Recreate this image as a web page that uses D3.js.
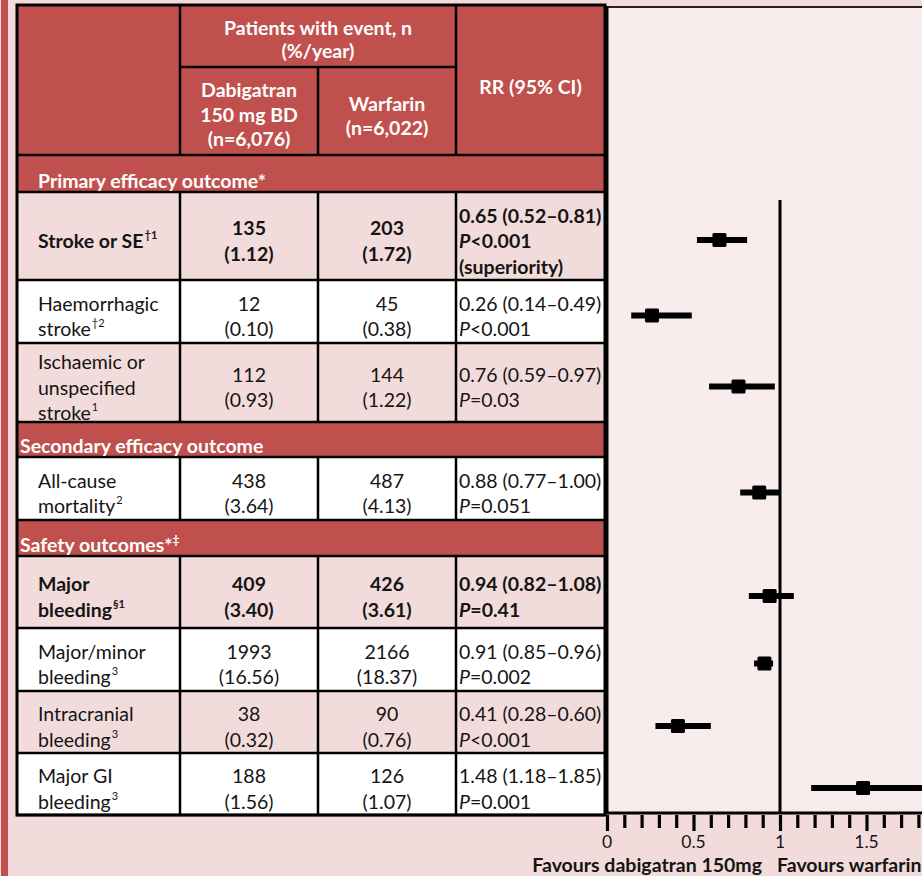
<!DOCTYPE html>
<html>
<head>
<meta charset="utf-8">
<script src="https://cdn.jsdelivr.net/npm/d3@7"></script>
<style>
  html, body { margin: 0; padding: 0; background: #F2DCDB; }
  svg { display: block; font-family: Lato, "Open Sans", sans-serif; }
</style>
</head>
<body>
<svg id="chart" width="922" height="876"></svg>
<script>
// ---- Data ----
const outcomeLabels = [
  ["Stroke or SE"],
  ["Haemorrhagic", "stroke"],
  ["Ischaemic or", "unspecified", "stroke"],
  ["All-cause", "mortality"],
  ["Major", "bleeding"],
  ["Major/minor", "bleeding"],
  ["Intracranial", "bleeding"],
  ["Major GI", "bleeding"]
];
const outcomeNotes = ["†1", "†2", "1", "2", "§1", "3", "3", "3"];
const boldOutcomes = [true, false, false, false, true, false, false, false];
const dabigatranEvents = [135, 12, 112, 438, 409, 1993, 38, 188];
const dabigatranRates = [1.12, 0.10, 0.93, 3.64, 3.40, 16.56, 0.32, 1.56];
const warfarinEvents = [203, 45, 144, 487, 426, 2166, 90, 126];
const warfarinRates = [1.72, 0.38, 1.22, 4.13, 3.61, 18.37, 0.76, 1.07];
const riskRatio = [0.65, 0.26, 0.76, 0.88, 0.94, 0.91, 0.41, 1.48];
const ciLower = [0.52, 0.14, 0.59, 0.77, 0.82, 0.85, 0.28, 1.18];
const ciUpper = [0.81, 0.49, 0.97, 1.00, 1.08, 0.96, 0.60, 1.85];
const pValues = ["<0.001", "<0.001", "=0.03", "=0.051", "=0.41", "=0.002", "<0.001", "=0.001"];
const rrExtraLine = ["(superiority)", null, null, null, null, null, null, null];
const sectionTitles = ["Primary efficacy outcome*", "Secondary efficacy outcome", "Safety outcomes*"];
const sectionNotes = ["", "", "‡"];
const sectionStarts = [0, 3, 4];   // index of first outcome in each section
const axisTicks = d3.range(0, 19).map(i => i / 10);
const axisLabels = [0, 0.5, 1, 1.5];
const favourLeft = "Favours dabigatran 150mg";
const favourRight = "Favours warfarin";

// ---- Layout ----
const RED = "#C0504D", PINK = "#F2DCDB", WHITE = "#FFFFFF", PANEL = "#F8ECEC", INK = "#141414";
const tableLeft = 17, tableRight = 605, tableTop = 5, headerBottom = 155, subHeaderY = 67;
const colX = [tableLeft, 180, 318, 456, tableRight];
const sectionHeights = [37, 35, 36];
const outcomeHeights = [88, 63, 79, 63, 72, 63, 62, 62];
const fontSize = 19.5, lineGap = 25.5;

const svg = d3.select("#chart");

// left accent strip
svg.append("rect").attr("x", 1).attr("y", 0).attr("width", 7).attr("height", 876).attr("fill", RED);

// compute vertical bands
const bands = [];
let y = headerBottom;
outcomeLabels.forEach((_, i) => {
  const s = sectionStarts.indexOf(i);
  if (s >= 0) { bands.push({ type: "section", s, y0: y, y1: y + sectionHeights[s] }); y += sectionHeights[s]; }
  bands.push({ type: "row", i, y0: y, y1: y + outcomeHeights[i] });
  y += outcomeHeights[i];
});
const tableBottom = y;
const rowBands = bands.filter(b => b.type === "row");
const rowCenter = i => (rowBands[i].y0 + rowBands[i].y1) / 2;

// ---- Forest plot panel ----
const x = d3.scaleLinear().domain([0, 1]).range([607, 780]);
const plotTop = 7, axisY = 813;
svg.append("rect").attr("x", x(0)).attr("y", plotTop).attr("width", 922 - x(0) + 5).attr("height", axisY - plotTop)
  .attr("fill", PANEL);
svg.append("line").attr("x1", x(0)).attr("x2", 930).attr("y1", plotTop).attr("y2", plotTop)
  .attr("stroke", "#222").attr("stroke-width", 2);

// ---- Table ----
const T = svg.append("g");
T.append("rect").attr("x", tableLeft).attr("y", tableTop).attr("width", tableRight - tableLeft)
  .attr("height", headerBottom - tableTop).attr("fill", RED);
bands.forEach(b => {
  const fill = b.type === "section" ? RED : (b.i % 2 === 0 ? PINK : WHITE);
  T.append("rect").attr("x", tableLeft).attr("y", b.y0).attr("width", tableRight - tableLeft)
    .attr("height", b.y1 - b.y0).attr("fill", fill);
});

const lineAttrs = sel => sel.attr("stroke", "#000").attr("stroke-width", 2.5);
lineAttrs(T.append("line").attr("x1", colX[1]).attr("x2", colX[1]).attr("y1", tableTop).attr("y2", headerBottom));
lineAttrs(T.append("line").attr("x1", colX[3]).attr("x2", colX[3]).attr("y1", tableTop).attr("y2", headerBottom));
lineAttrs(T.append("line").attr("x1", colX[2]).attr("x2", colX[2]).attr("y1", subHeaderY).attr("y2", headerBottom));
lineAttrs(T.append("line").attr("x1", colX[1]).attr("x2", colX[3]).attr("y1", subHeaderY).attr("y2", subHeaderY));
[headerBottom, ...bands.map(b => b.y1)].forEach(yy =>
  lineAttrs(T.append("line").attr("x1", tableLeft).attr("x2", tableRight).attr("y1", yy).attr("y2", yy)));
rowBands.forEach(b => colX.slice(1, 4).forEach(cx =>
  lineAttrs(T.append("line").attr("x1", cx).attr("x2", cx).attr("y1", b.y0).attr("y2", b.y1))));
T.append("rect").attr("x", tableLeft).attr("y", tableTop).attr("width", tableRight - tableLeft)
  .attr("height", tableBottom - tableTop).attr("fill", "none").attr("stroke", "#000").attr("stroke-width", 3);

// header text
const headText = (txt, cx, by) => T.append("text").attr("x", cx).attr("y", by).attr("text-anchor", "middle")
  .attr("fill", WHITE).attr("font-weight", "bold").attr("font-size", fontSize).text(txt);
headText("Patients with event, n", (colX[1] + colX[3]) / 2, 35);
headText("(%/year)", (colX[1] + colX[3]) / 2, 58);
headText("Dabigatran", (colX[1] + colX[2]) / 2, 97);
headText("150 mg BD", (colX[1] + colX[2]) / 2, 122);
headText("(n=6,076)", (colX[1] + colX[2]) / 2, 146);
headText("Warfarin", (colX[2] + colX[3]) / 2, 111);
headText("(n=6,022)", (colX[2] + colX[3]) / 2, 135);
headText("RR (95% CI)", (colX[3] + colX[4]) / 2, 94);

// section titles
bands.filter(b => b.type === "section").forEach(b => {
  const t = T.append("text").attr("x", b.s === 0 ? 38 : 20).attr("y", b.y1 - 4)
    .attr("fill", WHITE).attr("font-weight", "bold").attr("font-size", fontSize).text(sectionTitles[b.s]);
  if (sectionNotes[b.s]) t.append("tspan").attr("font-size", 12).attr("dy", -8).text(sectionNotes[b.s]);
});

// multi-line cell helper
function cellLines(lines, cx, center, anchor, bold) {
  const n = lines.length;
  const t = T.append("text").attr("text-anchor", anchor).attr("fill", INK).attr("font-size", fontSize)
    .attr("font-weight", bold ? "bold" : "normal");
  lines.forEach((ln, k) => {
    const by = center + 12 + (k - (n - 1) / 2) * lineGap;
    if (typeof ln === "string") {
      t.append("tspan").attr("x", cx).attr("y", by).text(ln);
    } else {
      const first = t.append("tspan").attr("x", cx).attr("y", by);
      first.append("tspan").attr("font-style", "italic").text(ln.italic);
      t.append("tspan").text(ln.rest);
    }
  });
  return t;
}

const fmt2 = d3.format(".2f");
outcomeLabels.forEach((lab, i) => {
  const c = rowCenter(i);
  const bold = boldOutcomes[i];
  const lt = cellLines(lab, 38, c, "start", bold);
  lt.append("tspan").attr("font-size", 11).attr("dy", -9).attr("dx", 1).text(outcomeNotes[i]);
  cellLines([String(dabigatranEvents[i]), `(${fmt2(dabigatranRates[i])})`], (colX[1] + colX[2]) / 2, c, "middle", bold);
  cellLines([String(warfarinEvents[i]), `(${fmt2(warfarinRates[i])})`], (colX[2] + colX[3]) / 2, c, "middle", bold);
  const rrLines = [`${fmt2(riskRatio[i])} (${fmt2(ciLower[i])}–${fmt2(ciUpper[i])})`, { italic: "P", rest: pValues[i] }];
  if (rrExtraLine[i]) rrLines.push(rrExtraLine[i]);
  cellLines(rrLines, colX[3] + 3, c, "start", bold);
});

// ---- Forest plot marks ----
const P = svg.append("g");
P.append("line").attr("x1", x(1)).attr("x2", x(1)).attr("y1", 200).attr("y2", axisY)
  .attr("stroke", "#000").attr("stroke-width", 3);
const markY = i => rowCenter(i) + 4;
P.selectAll("line.ci").data(riskRatio).join("line").attr("class", "ci")
  .attr("x1", (d, i) => x(ciLower[i])).attr("x2", (d, i) => x(ciUpper[i]))
  .attr("y1", (d, i) => markY(i)).attr("y2", (d, i) => markY(i))
  .attr("stroke", "#000").attr("stroke-width", 6);
P.selectAll("rect.pt").data(riskRatio).join("rect").attr("class", "pt")
  .attr("x", d => x(d) - 7).attr("y", (d, i) => markY(i) - 7).attr("width", 14).attr("height", 14)
  .attr("rx", 1.5).attr("fill", "#000");

// axis
const axis = d3.axisBottom(x).tickValues(axisTicks).tickSize(15).tickFormat("");
const ag = svg.append("g").attr("transform", `translate(0,${axisY})`).call(axis);
ag.select(".domain").remove();
ag.selectAll(".tick line").attr("stroke", "#000").attr("stroke-width", 3.2)
  .attr("y1", 2).attr("y2", d => axisLabels.some(v => Math.abs(v - d) < 1e-9) ? 18 : 15);
svg.append("line").attr("x1", x(0) - 1.5).attr("x2", 930).attr("y1", axisY).attr("y2", axisY)
  .attr("stroke", "#000").attr("stroke-width", 3);
svg.append("line").attr("x1", x(0)).attr("x2", x(0)).attr("y1", plotTop - 1).attr("y2", axisY)
  .attr("stroke", "#000").attr("stroke-width", 3);
svg.selectAll("text.tl").data(axisLabels).join("text").attr("class", "tl")
  .attr("x", d => x(d)).attr("y", 848).attr("text-anchor", "middle").attr("fill", INK)
  .attr("font-size", 17.5).text(d => String(d));
svg.append("text").attr("x", 762).attr("y", 871.5).attr("text-anchor", "end").attr("font-weight", "bold")
  .attr("fill", INK).attr("font-size", fontSize).text(favourLeft);
svg.append("text").attr("x", 777).attr("y", 871.5).attr("text-anchor", "start").attr("font-weight", "bold")
  .attr("fill", INK).attr("font-size", fontSize).text(favourRight);
</script>
</body>
</html>
